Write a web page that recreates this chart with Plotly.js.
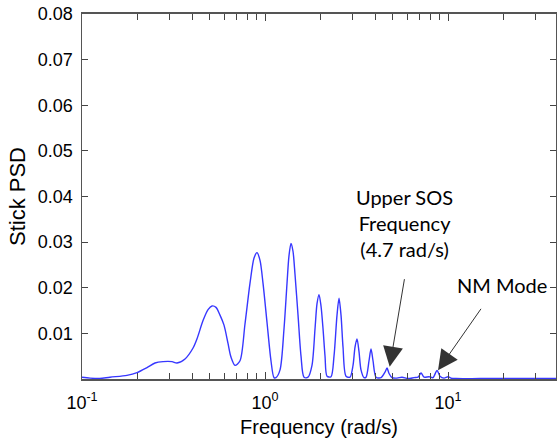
<!DOCTYPE html>
<html>
<head>
<meta charset="utf-8">
<script src="https://cdn.plot.ly/plotly-3.0.1.min.js"></script>
<style>html,body{margin:0;padding:0;background:#fff;}#chart{width:557px;height:442px;}</style>
</head>
<body>
<div id="chart"></div>
<script>
// Frequency (rad/s)
const freq = [0.1, 0.1106, 0.125, 0.1422, 0.176, 0.1999, 0.2266, 0.2505, 0.2771, 0.3103, 0.3305, 0.3655,
  0.4044, 0.425, 0.4585, 0.4884, 0.5132, 0.5397, 0.5676, 0.597, 0.6279, 0.6518, 0.6858,
  0.730, 0.777, 0.828, 0.871, 0.904, 0.939, 0.975, 1.025, 1.078, 1.12,
  1.148, 1.208, 1.270, 1.319, 1.352, 1.387, 1.422, 1.458, 1.515, 1.573, 1.634,
  1.718, 1.806, 1.876, 1.924, 1.973, 2.023, 2.075, 2.128, 2.183,
  2.294, 2.382, 2.474, 2.537, 2.602, 2.668, 2.771,
  2.913, 3.026, 3.103, 3.182, 3.263, 3.346, 3.475,
  3.564, 3.701, 3.795, 3.892, 4.044,
  4.303, 4.525, 4.642, 4.761, 4.943,
  5.264, 5.606, 6.046, 6.52, 6.858, 7.122, 7.396, 7.876, 8.28, 8.709, 9.04, 9.508,
  10.0, 10.38, 11.06, 14.96, 24.74, 38.92];
// Stick PSD
const psd = [0.0004, 0.0002, 0.0001, 0.0004, 0.0008, 0.0014, 0.0025, 0.0035, 0.0038, 0.0038, 0.0035, 0.0044,
  0.0068, 0.0088, 0.0128, 0.0152, 0.0160, 0.0157, 0.0140, 0.0118, 0.0078, 0.0048, 0.0030,
  0.0040, 0.0120, 0.0210, 0.0265, 0.0277, 0.0260, 0.0210, 0.0125, 0.0040, 0.0003,
  0.0003, 0.0020, 0.0110, 0.0210, 0.0270, 0.0297, 0.0280, 0.0230, 0.0140, 0.0050, 0.0004,
  0.0004, 0.0030, 0.0110, 0.0165, 0.0185, 0.0160, 0.0110, 0.0050, 0.0006,
  0.0005, 0.0050, 0.0140, 0.0177, 0.0140, 0.0070, 0.0006,
  0.0004, 0.0030, 0.0070, 0.0088, 0.0060, 0.0020, 0.0003,
  0.0004, 0.0040, 0.0066, 0.0040, 0.0004,
  0.0003, 0.0015, 0.0024, 0.0012, 0.0003,
  0.0002, 0.0004, 0.0001, 0.0003, 0.0004, 0.0013, 0.0004, 0.0005, 0.0003, 0.0019, 0.0006, 0.0002,
  0.0005, 0.0002, 0.0001, 0.0001, 0.0001, 0.0001];

const xTickVals = [0.1, 1, 10];
const xTickText = ['10<sup>-1</sup>', '10<sup>0</sup>', '10<sup>1</sup>'];
const xMinorVals = [0.2, 0.3, 0.4, 0.5, 0.6, 0.7, 0.8, 0.9, 2, 3, 4, 5, 6, 7, 8, 9, 20, 30];
const yTickVals = [0.01, 0.02, 0.03, 0.04, 0.05, 0.06, 0.07, 0.08];
const yTickText = ['0.01', '0.02', '0.03', '0.04', '0.05', '0.06', '0.07', '0.08'];

const axisFont = {family: 'Liberation Sans, Arial, sans-serif', size: 18, color: '#000'};
const noteFont = {family: 'Lato, Open Sans, sans-serif', size: 20, color: '#000'};

const trace = {
  x: freq, y: psd, type: 'scatter', mode: 'lines',
  line: {color: 'rgb(55,55,255)', width: 1.4, shape: 'spline', smoothing: 0.8},
  hoverinfo: 'skip'
};

const layout = {
  width: 557, height: 442,
  margin: {l: 82, r: 1, t: 14, b: 63, pad: 0},
  paper_bgcolor: '#fff', plot_bgcolor: '#fff',
  showlegend: false,
  xaxis: {
    type: 'log', range: [-1, 1.59],
    tickmode: 'array', tickvals: xTickVals, ticktext: xTickText,
    ticks: 'inside', ticklen: 7, tickwidth: 1, tickcolor: '#444',
    minor: {tickmode: 'array', tickvals: xMinorVals, ticks: 'inside', ticklen: 6, tickwidth: 1, tickcolor: '#444', showgrid: false},
    showline: true, linecolor: '#555', linewidth: 2, mirror: 'ticks',
    showgrid: false, zeroline: false,
    tickfont: axisFont, ticklabelstandoff: 6,
    title: {text: 'Frequency (rad/s)', font: {family: 'Liberation Sans, Arial, sans-serif', size: 20, color: '#000'}, standoff: 8}
  },
  yaxis: {
    range: [0, 0.08],
    tickmode: 'array', tickvals: yTickVals, ticktext: yTickText,
    ticks: 'inside', ticklen: 6, tickwidth: 1, tickcolor: '#444',
    showline: true, linecolor: '#555', linewidth: 1.5, mirror: 'ticks',
    showgrid: false, zeroline: false,
    tickfont: axisFont, ticklabelstandoff: 4,
    title: {text: 'Stick PSD', font: {family: 'Liberation Sans, Arial, sans-serif', size: 22, color: '#000'}, standoff: 6}
  },
  annotations: [
    {xref: 'paper', yref: 'paper', x: 0.681, y: 0.427, xanchor: 'center', yanchor: 'middle',
     text: 'Upper SOS<br>Frequency<br>(4.7 rad/s)', showarrow: false, font: noteFont, align: 'center'},
    {xref: 'paper', yref: 'paper', x: 0.886, y: 0.2575, xanchor: 'center', yanchor: 'middle',
     text: 'NM Mode', showarrow: false, font: noteFont},
    {xref: 'x', yref: 'y', x: Math.log10(4.8), y: 0.0027, text: '', showarrow: true,
     ax: 15, ay: -89, arrowhead: 2, arrowsize: 4, arrowwidth: 1, arrowcolor: '#333'},
    {xref: 'x', yref: 'y', x: Math.log10(8.82), y: 0.0019, text: '', showarrow: true,
     ax: 44, ay: -63, arrowhead: 2, arrowsize: 4, arrowwidth: 1, arrowcolor: '#333'}
  ]
};

Plotly.newPlot('chart', [trace], layout, {displayModeBar: false, staticPlot: true});
</script>
</body>
</html>
